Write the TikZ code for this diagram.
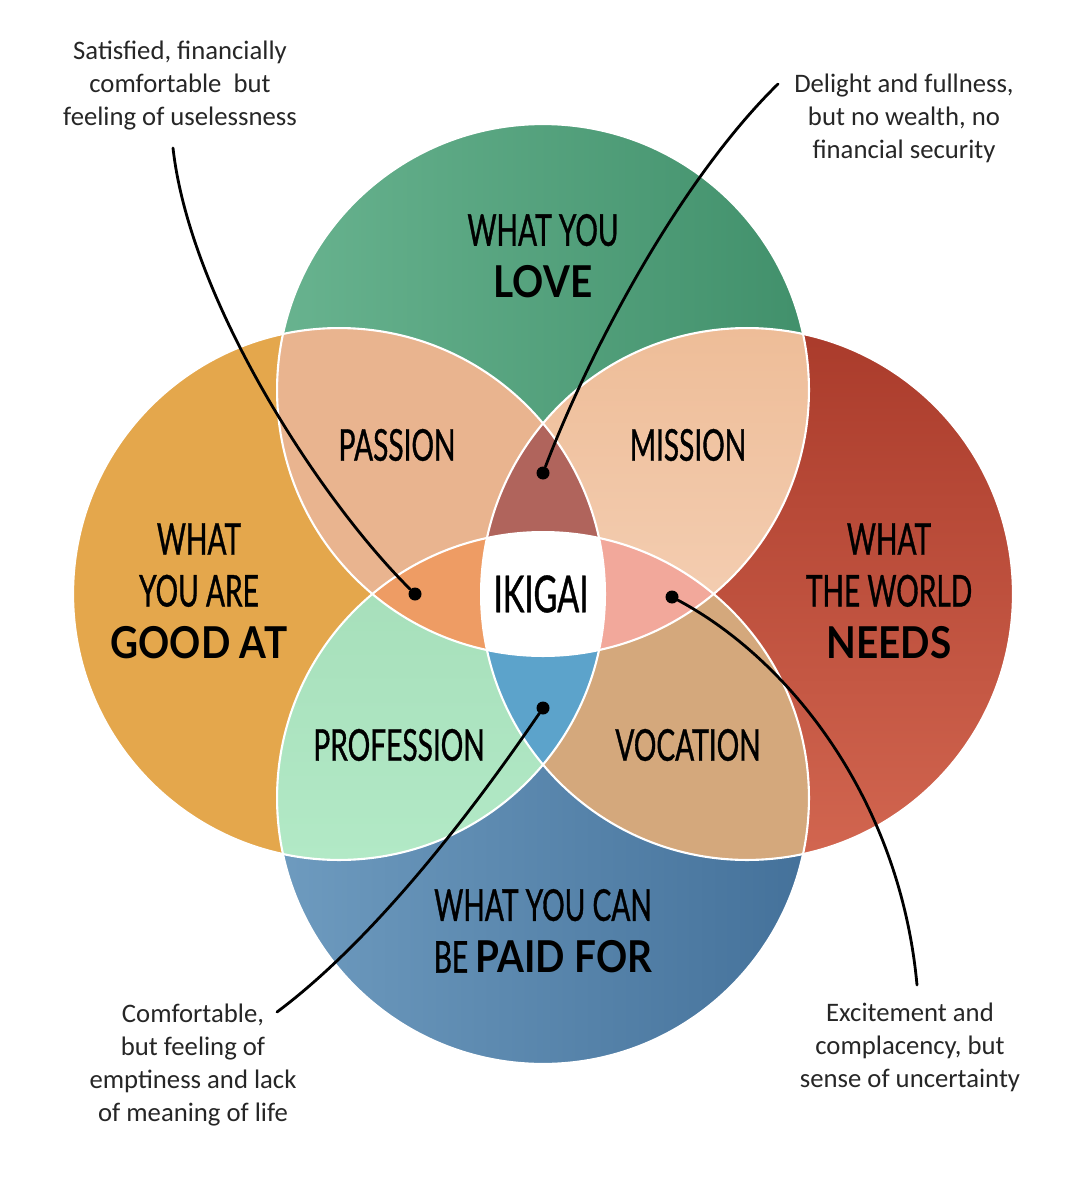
\documentclass[tikz,border=0pt]{standalone}
\usepackage{fontspec}
\setmainfont{Carlito}
\newfontfamily\lblfont[FakeStretch=0.64,FakeBold=0.8]{Lato}
\newfontfamily\lblbold[FakeStretch=0.88]{Lato}
\usepackage{tikz}

\definecolor{loveLight}{HTML}{68B38F}
\definecolor{loveDark}{HTML}{41906B}
\definecolor{goodOrange}{HTML}{E4A74C}
\definecolor{needsDark}{HTML}{AA3B2B}
\definecolor{needsLight}{HTML}{D26650}
\definecolor{paidLight}{HTML}{6E9BBF}
\definecolor{paidDark}{HTML}{44719A}
\definecolor{passionPeach}{HTML}{E9B48F}
\definecolor{missionTop}{HTML}{EEBD98}
\definecolor{missionBottom}{HTML}{F9DCC8}
\definecolor{professionTop}{HTML}{9CD6B0}
\definecolor{professionBottom}{HTML}{B2E9C6}
\definecolor{vocationTan}{HTML}{D4A87C}
\definecolor{topLens}{HTML}{B0645C}
\definecolor{leftLens}{HTML}{EE9C64}
\definecolor{rightLens}{HTML}{F2A89B}
\definecolor{bottomLens}{HTML}{5CA3CB}

\tikzset{
    note/.style={font=\fontsize{15.2}{18.7}\selectfont, align=center, inner sep=0pt, text=black!85},
    lbl/.style={font=\lblfont\fontsize{25}{29.5}\selectfont, align=center, inner sep=0pt},
    dotmark/.style={circle, fill=black, inner sep=0pt, minimum size=0.26cm},
    leader/.style={line width=1.6pt, line cap=round},
    seam/.style={draw=white, line width=1.2pt}
}

\begin{document}
\begin{tikzpicture}[x=0.02cm, y=-0.02cm]
    \useasboundingbox (0,0) rectangle (1079,1196);
    \def\circR{5.32cm}
    \coordinate (cLove) at (543,390);
    \coordinate (cGood) at (339,594);
    \coordinate (cNeeds) at (747,594);
    \coordinate (cPaid) at (543,798);
    % the four circles
    \shade[left color=loveLight, right color=loveDark] (cLove) circle (\circR);
    \fill[goodOrange] (cGood) circle (\circR);
    \shade[top color=needsDark, bottom color=needsLight] (cNeeds) circle (\circR);
    \shade[left color=paidLight, right color=paidDark] (cPaid) circle (\circR);
    % two-circle overlaps
    \begin{scope}
        \clip (cLove) circle (\circR);
        \fill[passionPeach] (cGood) circle (\circR);
        \shade[top color=missionTop, bottom color=missionBottom] (cNeeds) circle (\circR);
    \end{scope}
    \begin{scope}
        \clip (cPaid) circle (\circR);
        \shade[top color=professionTop, bottom color=professionBottom] (cGood) circle (\circR);
        \fill[vocationTan] (cNeeds) circle (\circR);
    \end{scope}
    % three-circle lenses
    \begin{scope}
        \clip (cGood) circle (\circR);
        \clip (cNeeds) circle (\circR);
        \fill[topLens] (cLove) circle (\circR);
        \fill[bottomLens] (cPaid) circle (\circR);
    \end{scope}
    \begin{scope}
        \clip (cLove) circle (\circR);
        \clip (cPaid) circle (\circR);
        \fill[leftLens] (cGood) circle (\circR);
        \fill[rightLens] (cNeeds) circle (\circR);
    \end{scope}
    % ikigai centre
    \begin{scope}
        \clip (cLove) circle (\circR);
        \clip (cPaid) circle (\circR);
        \clip (cGood) circle (\circR);
        \fill[white] (cNeeds) circle (\circR);
    \end{scope}
    % white seams
    \foreach \c in {cLove,cGood,cNeeds,cPaid}
        \draw[seam] (\c) circle (\circR);
    % labels
    \node[lbl] (love) at (543,256) {WHAT YOU\\{\lblbold\bfseries LOVE}};
    \node[lbl] (good) at (199,591) {WHAT\\YOU ARE\\{\lblbold\bfseries GOOD AT}};
    \node[lbl] (needs) at (889,591) {WHAT\\THE WORLD\\{\lblbold\bfseries NEEDS}};
    \node[lbl] (paid) at (543,931) {WHAT YOU CAN\\BE {\lblbold\bfseries PAID FOR}};
    \node[lbl] (passion) at (397,445) {PASSION};
    \node[lbl] (mission) at (688,445) {MISSION};
    \node[lbl] (profession) at (399,745) {PROFESSION};
    \node[lbl] (vocation) at (688,745) {VOCATION};
    \node[lbl, font=\lblfont\fontsize{29}{32}\selectfont] (ikigai) at (541,594) {IKIGAI};
    % dots and leader lines
    \node[dotmark] (dotTop) at (543,473) {};
    \node[dotmark] (dotLeft) at (415,594) {};
    \node[dotmark] (dotRight) at (672,597) {};
    \node[dotmark] (dotBottom) at (543,708) {};
    \coordinate (endTL) at (173,148);
    \coordinate (endTR) at (778,84);
    \coordinate (endBL) at (277,1012);
    \coordinate (endBR) at (917,985);
    \draw[leader] (endTL) .. controls (190,300) and (320,500) .. (dotLeft);
    \draw[leader] (endTR) .. controls (680,180) and (590,350) .. (dotTop);
    \draw[leader] (dotBottom) .. controls (480,800) and (380,935) .. (endBL);
    \draw[leader] (dotRight) .. controls (790,660) and (900,800) .. (endBR);
    % notes
    \node[note, anchor=north] (noteTL) at (180,41) {Satisfied, financially\\comfortable\ \ but\\feeling of uselessness};
    \node[note, anchor=north] (noteTR) at (904,74) {Delight and fullness,\\but no wealth, no\\financial security};
    \node[note, anchor=north] (noteBL) at (193,1004) {Comfortable,\\but feeling of\\emptiness and lack\\of meaning of life};
    \node[note, anchor=north] (noteBR) at (910,1003) {Excitement and\\complacency, but\\sense of uncertainty};
\end{tikzpicture}
\end{document}
